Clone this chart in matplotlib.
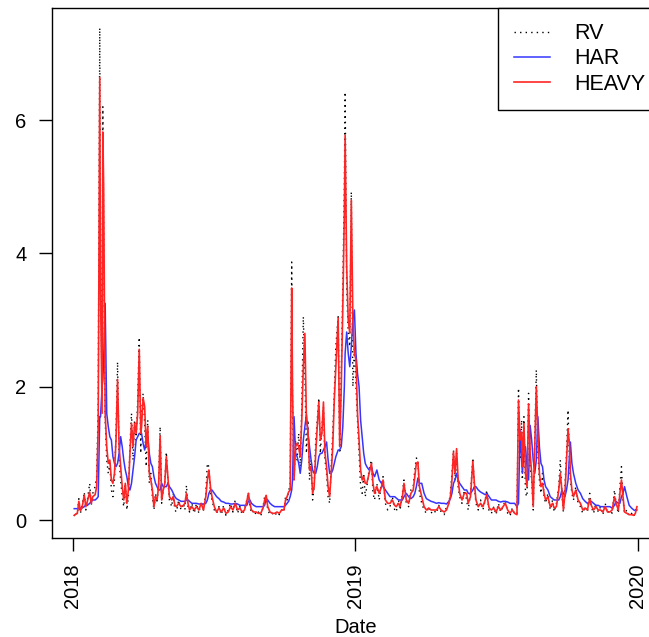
import matplotlib
matplotlib.use("Agg")
import matplotlib.pyplot as plt
import matplotlib.dates as mdates
import numpy as np

plt.rcParams['font.family'] = ['Liberation Sans', 'DejaVu Sans']

# Days since 2018-01-01
day_offset = [
    2, 4, 6, 8, 10, 12, 15, 17, 19, 22,
    24, 26, 29, 31, 33, 35, 36, 38, 39, 40,
    42, 44, 46, 48, 50, 52, 54, 56, 58, 60,
    62, 64, 66, 68, 70, 72, 74, 76, 78, 80,
    82, 84, 86, 88, 89, 91, 93, 95, 97, 99,
    101, 103, 105, 107, 109, 111, 113, 115, 117, 119,
    121, 123, 125, 128, 130, 132, 134, 137, 140, 143,
    145, 147, 149, 151, 154, 157, 160, 163, 166, 169,
    172, 174, 176, 178, 180, 183, 186, 189, 192, 195,
    198, 201, 204, 207, 210, 213, 216, 219, 222, 225,
    227, 229, 231, 234, 237, 240, 243, 246, 248, 250,
    252, 255, 258, 261, 264, 267, 270, 273, 275, 277,
    279, 281, 283, 284, 286, 288, 290, 292, 294, 296,
    298, 300, 302, 304, 306, 308, 310, 312, 314, 316,
    318, 320, 322, 324, 326, 328, 330, 332, 334, 336,
    338, 340, 343, 345, 347, 349, 351, 352, 354, 356,
    358, 360, 362, 364, 366, 368, 370, 372, 374, 376,
    378, 380, 383, 386, 388, 390, 393, 396, 399, 401,
    404, 407, 410, 413, 416, 418, 421, 423, 426, 428,
    431, 434, 437, 440, 442, 444, 446, 448, 451, 454,
    457, 460, 463, 466, 470, 473, 476, 480, 483, 486,
    488, 490, 492, 494, 496, 498, 500, 503, 506, 509,
    511, 514, 517, 519, 521, 524, 527, 530, 533, 535,
    538, 541, 544, 547, 550, 553, 556, 559, 562, 565,
    568, 571, 574, 576, 578, 580, 581, 583, 585, 587,
    589, 591, 593, 595, 597, 599, 601, 603, 605, 607,
    609, 611, 614, 617, 620, 622, 625, 628, 630, 632,
    634, 636, 638, 640, 642, 643, 645, 647, 650, 653,
    656, 659, 662, 665, 668, 670, 673, 676, 679, 682,
    685, 688, 691, 694, 697, 700, 702, 705, 707, 709,
    711, 713, 716, 719, 722, 725, 727, 729,
]

rv = [
    0.06, 0.12, 0.08, 0.32, 0.10, 0.20, 0.42, 0.15, 0.30, 0.55,
    0.22, 0.40, 0.50, 0.65, 1.70, 7.38, 3.80, 1.90, 6.20, 4.50,
    1.50, 0.90, 0.70, 0.85, 0.45, 0.35, 0.60, 1.30, 2.37, 0.90,
    0.60, 0.35, 0.20, 0.55, 0.15, 0.35, 1.10, 1.60, 0.90, 1.50,
    1.20, 1.80, 2.74, 1.00, 1.60, 1.90, 1.45, 0.80, 1.50, 0.55,
    0.70, 0.35, 0.15, 0.40, 0.25, 0.55, 1.40, 0.25, 0.45, 0.55,
    1.02, 0.60, 0.30, 0.20, 0.40, 0.15, 0.12, 0.30, 0.15, 0.25,
    0.15, 0.52, 0.20, 0.12, 0.25, 0.10, 0.25, 0.10, 0.28, 0.15,
    0.40, 0.85, 0.80, 0.40, 0.30, 0.15, 0.10, 0.20, 0.08, 0.22,
    0.07, 0.15, 0.25, 0.12, 0.30, 0.10, 0.20, 0.08, 0.15, 0.30,
    0.42, 0.20, 0.10, 0.15, 0.08, 0.12, 0.06, 0.20, 0.35, 0.38,
    0.15, 0.08, 0.10, 0.06, 0.12, 0.08, 0.15, 0.12, 0.35, 0.30,
    0.45, 0.50, 3.87, 1.80, 0.60, 1.20, 0.90, 1.30, 0.80, 1.70,
    3.05, 2.20, 1.00, 1.50, 0.60, 0.90, 0.30, 0.50, 1.20, 1.50,
    1.83, 1.00, 1.40, 1.70, 0.90, 0.70, 0.35, 0.25, 0.80, 1.30,
    1.90, 2.60, 3.05, 1.00, 2.20, 3.50, 5.00, 6.42, 3.50, 2.80,
    2.60, 4.92, 2.00, 2.60, 2.00, 1.50, 1.00, 0.50, 0.40, 0.70,
    0.35, 0.50, 0.75, 0.90, 0.40, 0.30, 0.55, 0.30, 0.55, 0.65,
    0.25, 0.15, 0.20, 0.35, 0.15, 0.12, 0.30, 0.15, 0.40, 0.60,
    0.25, 0.20, 0.45, 0.50, 0.75, 0.93, 0.91, 0.40, 0.25, 0.15,
    0.10, 0.20, 0.10, 0.15, 0.10, 0.22, 0.12, 0.08, 0.20, 0.25,
    0.40, 0.70, 1.05, 0.60, 1.00, 0.50, 0.35, 0.25, 0.45, 0.30,
    0.15, 0.40, 0.93, 0.50, 0.25, 0.15, 0.30, 0.15, 0.30, 0.45,
    0.12, 0.10, 0.20, 0.08, 0.25, 0.12, 0.20, 0.30, 0.10, 0.06,
    0.18, 0.08, 0.10, 1.98, 0.90, 1.50, 0.60, 1.55, 0.40, 0.35,
    1.90, 0.80, 0.60, 0.15, 1.20, 2.25, 1.00, 0.60, 0.40, 0.70,
    0.35, 0.25, 0.40, 0.15, 0.30, 0.12, 0.25, 0.50, 0.90, 0.40,
    0.12, 0.50, 1.00, 1.65, 0.80, 0.60, 0.40, 0.30, 0.50, 0.25,
    0.20, 0.10, 0.20, 0.12, 0.40, 0.20, 0.10, 0.25, 0.12, 0.20,
    0.08, 0.25, 0.10, 0.15, 0.10, 0.45, 0.25, 0.10, 0.50, 0.80,
    0.30, 0.10, 0.15, 0.06, 0.10, 0.05, 0.12, 0.22,
]

har = [
    0.17, 0.17, 0.17, 0.17, 0.18, 0.18, 0.20, 0.22, 0.22, 0.25,
    0.28, 0.30, 0.30, 0.32, 0.35, 1.55, 1.55, 2.00, 2.10, 2.40,
    3.25, 1.60, 1.40, 1.25, 1.20, 0.95, 0.85, 0.80, 0.85, 1.00,
    1.25, 1.10, 0.90, 0.75, 0.65, 0.50, 0.45, 0.55, 0.75, 0.95,
    1.20, 1.25, 1.30, 1.30, 1.30, 1.15, 1.05, 1.20, 1.25, 1.00,
    0.85, 0.80, 0.65, 0.55, 0.50, 0.45, 0.45, 0.55, 0.50, 0.50,
    0.50, 0.55, 0.50, 0.45, 0.40, 0.35, 0.32, 0.30, 0.28, 0.28,
    0.28, 0.30, 0.30, 0.28, 0.25, 0.25, 0.25, 0.24, 0.24, 0.24,
    0.25, 0.30, 0.40, 0.45, 0.45, 0.40, 0.35, 0.32, 0.28, 0.27,
    0.25, 0.25, 0.24, 0.24, 0.25, 0.24, 0.22, 0.22, 0.22, 0.22,
    0.28, 0.30, 0.25, 0.22, 0.20, 0.20, 0.20, 0.20, 0.22, 0.32,
    0.30, 0.25, 0.22, 0.20, 0.20, 0.20, 0.20, 0.20, 0.22, 0.25,
    0.28, 0.35, 0.45, 0.60, 1.55, 1.00, 0.95, 0.85, 0.70, 0.90,
    1.20, 1.40, 1.58, 1.30, 1.10, 0.90, 0.75, 0.70, 0.70, 0.80,
    0.95, 1.00, 1.00, 1.05, 1.10, 1.17, 0.90, 0.70, 0.70, 0.75,
    0.85, 0.95, 1.05, 1.05, 1.10, 1.40, 2.00, 2.50, 2.82, 2.50,
    2.30, 2.60, 3.00, 3.15, 2.50, 2.20, 2.00, 1.50, 1.25, 1.00,
    0.85, 0.80, 0.75, 0.80, 0.70, 0.65, 0.75, 0.60, 0.55, 0.50,
    0.45, 0.40, 0.35, 0.35, 0.35, 0.33, 0.30, 0.30, 0.30, 0.35,
    0.40, 0.35, 0.32, 0.35, 0.40, 0.50, 0.63, 0.55, 0.55, 0.40,
    0.32, 0.30, 0.28, 0.27, 0.25, 0.26, 0.25, 0.25, 0.24, 0.28,
    0.32, 0.40, 0.55, 0.60, 0.70, 0.60, 0.55, 0.50, 0.45, 0.45,
    0.40, 0.40, 0.45, 0.50, 0.50, 0.45, 0.42, 0.40, 0.38, 0.40,
    0.35, 0.30, 0.30, 0.30, 0.28, 0.27, 0.28, 0.28, 0.27, 0.25,
    0.25, 0.25, 0.20, 0.25, 1.35, 0.90, 0.70, 1.00, 1.10, 0.80,
    0.60, 1.42, 1.20, 0.90, 0.70, 0.90, 1.55, 1.10, 0.85, 0.80,
    0.60, 0.50, 0.45, 0.35, 0.32, 0.30, 0.30, 0.30, 0.35, 0.45,
    0.40, 0.35, 0.45, 0.60, 1.00, 1.17, 0.85, 0.70, 0.55, 0.45,
    0.40, 0.32, 0.28, 0.25, 0.27, 0.28, 0.25, 0.22, 0.22, 0.20,
    0.20, 0.20, 0.20, 0.20, 0.18, 0.22, 0.28, 0.25, 0.25, 0.35,
    0.40, 0.50, 0.35, 0.22, 0.18, 0.15, 0.14, 0.15,
]

heavy = [
    0.07, 0.09, 0.10, 0.28, 0.14, 0.18, 0.37, 0.20, 0.28, 0.42,
    0.25, 0.35, 0.38, 0.50, 1.40, 6.64, 3.40, 1.60, 5.82, 5.00,
    1.60, 1.10, 0.85, 0.90, 0.60, 0.55, 0.70, 1.20, 2.11, 1.10,
    0.80, 0.50, 0.30, 0.55, 0.25, 0.45, 1.00, 1.45, 1.10, 1.45,
    1.30, 1.60, 2.56, 1.30, 1.40, 1.83, 1.70, 1.10, 1.40, 0.70,
    0.60, 0.45, 0.20, 0.35, 0.30, 0.50, 1.26, 0.30, 0.45, 0.55,
    0.95, 0.65, 0.35, 0.30, 0.35, 0.22, 0.20, 0.25, 0.20, 0.22,
    0.25, 0.40, 0.25, 0.15, 0.20, 0.15, 0.20, 0.15, 0.25, 0.15,
    0.35, 0.60, 0.75, 0.50, 0.35, 0.20, 0.12, 0.18, 0.12, 0.18,
    0.10, 0.12, 0.20, 0.15, 0.25, 0.15, 0.18, 0.12, 0.15, 0.28,
    0.40, 0.25, 0.15, 0.12, 0.12, 0.10, 0.10, 0.18, 0.30, 0.37,
    0.20, 0.12, 0.10, 0.10, 0.12, 0.10, 0.15, 0.15, 0.30, 0.35,
    0.42, 0.45, 3.48, 2.00, 0.60, 1.10, 1.15, 1.10, 0.95, 1.50,
    2.30, 2.80, 1.50, 1.35, 0.75, 0.80, 0.40, 0.50, 1.00, 1.40,
    1.77, 1.20, 1.30, 1.77, 1.00, 0.80, 0.50, 0.35, 0.70, 1.10,
    1.80, 2.30, 3.03, 1.10, 2.00, 3.20, 4.60, 5.77, 3.80, 3.00,
    2.80, 4.80, 3.00, 2.50, 2.40, 1.60, 1.20, 0.75, 0.60, 0.65,
    0.55, 0.55, 0.70, 0.85, 0.55, 0.40, 0.50, 0.40, 0.50, 0.60,
    0.30, 0.25, 0.25, 0.30, 0.22, 0.20, 0.25, 0.20, 0.35, 0.55,
    0.30, 0.25, 0.40, 0.45, 0.65, 0.85, 0.87, 0.50, 0.35, 0.20,
    0.15, 0.18, 0.15, 0.15, 0.15, 0.20, 0.15, 0.12, 0.15, 0.25,
    0.35, 0.60, 1.02, 0.70, 1.07, 0.60, 0.40, 0.30, 0.40, 0.40,
    0.25, 0.35, 0.88, 0.55, 0.30, 0.20, 0.25, 0.20, 0.30, 0.38,
    0.18, 0.15, 0.18, 0.12, 0.20, 0.15, 0.20, 0.25, 0.15, 0.10,
    0.15, 0.10, 0.08, 1.80, 1.20, 1.32, 0.80, 1.45, 0.70, 0.50,
    1.74, 1.00, 0.70, 0.20, 1.10, 2.00, 1.30, 0.70, 0.50, 0.55,
    0.40, 0.30, 0.35, 0.20, 0.25, 0.18, 0.20, 0.45, 0.70, 0.45,
    0.15, 0.40, 0.90, 1.37, 1.10, 0.70, 0.45, 0.35, 0.45, 0.30,
    0.25, 0.15, 0.18, 0.15, 0.32, 0.22, 0.15, 0.20, 0.15, 0.15,
    0.12, 0.20, 0.12, 0.12, 0.15, 0.35, 0.25, 0.15, 0.40, 0.60,
    0.35, 0.12, 0.10, 0.08, 0.08, 0.07, 0.10, 0.20,
]

series_labels = ['RV', 'HAR', 'HEAVY']
year_ticks = ['2018-01-01', '2019-01-01', '2020-01-01']
year_labels = ['2018', '2019', '2020']
y_ticks = [0, 2, 4, 6]

assert len(day_offset) == len(rv) == len(har) == len(heavy)

dates = np.datetime64('2018-01-01') + np.array(day_offset).astype('timedelta64[D]')

W, H = 649, 637
fig = plt.figure(figsize=(W / 100, H / 100), dpi=100)
ax = fig.add_axes([52 / W, 1 - 538 / H, (660 - 52) / W, (538 - 8) / H])

ax.plot(dates, rv, color='black', lw=1.0, linestyle=(0, (1, 3)), label=series_labels[0])
ax.plot(dates, har, color='#3535ff', lw=1.1, label=series_labels[1])
ax.plot(dates, heavy, color='#ff2525', lw=1.2, label=series_labels[2])

base = mdates.date2num(np.datetime64('2018-01-01'))
ax.set_xlim(base - 26.7, base + 758.8)
ax.set_ylim(-0.27, 7.68)

ax.set_xticks([mdates.date2num(np.datetime64(d)) for d in year_ticks])
ax.set_xticklabels(year_labels, rotation=90, fontsize=14.5)
ax.set_yticks(y_ticks)
ax.set_yticklabels([str(v) for v in y_ticks], fontsize=14.5)
ax.tick_params(axis='both', length=9.4, width=1.0, direction='out', pad=9, colors='black')
for s in ax.spines.values():
    s.set_linewidth(1.0)
    s.set_color('black')

fig.text(356 / W, 1 - 633 / H, 'Date', ha='center', va='baseline', fontsize=14.5)

leg = ax.legend(loc='upper right', bbox_to_anchor=(1, 1), borderaxespad=0,
                fancybox=False, edgecolor='black', framealpha=1, fontsize=15.5,
                handlelength=1.7, handletextpad=1.1, borderpad=0.7, labelspacing=0.2)
leg.get_frame().set_linewidth(1.0)

fig.savefig('out.png', dpi=100)
